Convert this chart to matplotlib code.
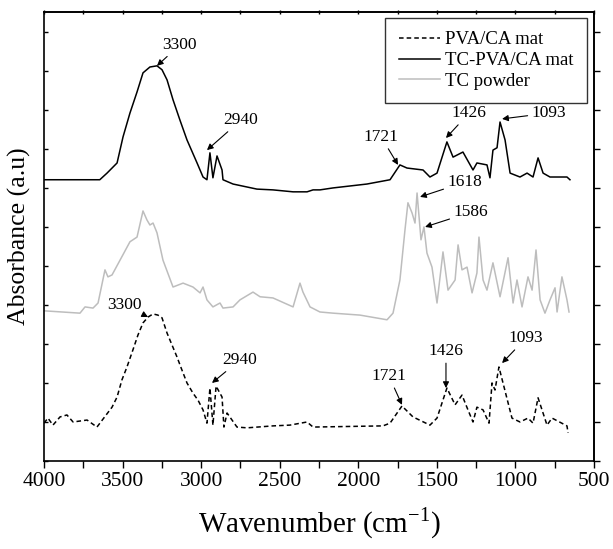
import matplotlib.pyplot as plt
from matplotlib.ticker import MultipleLocator, NullFormatter

plt.rcParams['font.family'] = ['Liberation Serif', 'DejaVu Serif']

# PVA/CA mat (bottom, dashed)
wn_pva = [4000, 3975, 3943, 3898, 3854, 3815, 3726, 3663, 3567, 3535, 3504, 3472, 3434, 3402,
          3370, 3338, 3306, 3275, 3249, 3217, 3185, 3154, 3122, 3090, 3052, 3020, 2988, 2963,
          2944, 2925, 2905, 2867, 2855, 2835, 2772, 2708, 2543, 2435, 2326, 2288, 1843, 1798,
          1722, 1652, 1544, 1499, 1436, 1384, 1340, 1302, 1270, 1245, 1206, 1168, 1149, 1130,
          1105, 1079, 1022, 971, 920, 888, 856, 799, 767, 672, 665]
ab_pva = [0.97, 1.10, 0.92, 1.13, 1.18, 1.00, 1.05, 0.87, 1.38, 1.64, 2.08, 2.41, 2.85, 3.23,
          3.54, 3.69, 3.77, 3.74, 3.67, 3.28, 2.97, 2.67, 2.33, 2.00, 1.74, 1.56, 1.31, 0.97,
          1.87, 0.92, 1.92, 1.64, 0.87, 1.23, 0.87, 0.85, 0.90, 0.92, 1.00, 0.87, 0.90, 0.97,
          1.41, 1.13, 0.92, 1.10, 1.87, 1.44, 1.69, 1.31, 1.00, 1.38, 1.31, 0.97, 2.00, 1.82,
          2.41, 2.00, 1.10, 1.00, 1.10, 0.97, 1.62, 0.92, 1.10, 0.90, 0.72]

# TC-PVA/CA mat (top, solid)
wn_tcpva = [4000, 3645, 3599, 3567, 3535, 3497, 3453, 3408, 3370, 3326, 3281, 3249, 3217, 3179,
            3135, 3090, 3026, 2988, 2963, 2944, 2925, 2899, 2867, 2861, 2797, 2645, 2543, 2415,
            2326, 2288, 2244, 2161, 1945, 1798, 1735, 1690, 1588, 1544, 1499, 1436, 1397, 1334,
            1270, 1245, 1181, 1162, 1143, 1117, 1098, 1066, 1034, 971, 926, 888, 856, 824, 780,
            672, 653]
ab_tcpva = [7.21, 7.21, 7.38, 7.51, 7.64, 8.31, 8.92, 9.46, 9.95, 10.10, 10.13, 10.03, 9.77, 9.26,
            8.74, 8.23, 7.64, 7.28, 7.21, 7.90, 7.26, 7.82, 7.46, 7.21, 7.10, 6.97, 6.95, 6.90,
            6.90, 6.95, 6.95, 7.00, 7.10, 7.21, 7.59, 7.51, 7.46, 7.28, 7.38, 8.18, 7.79, 7.92,
            7.46, 7.64, 7.59, 7.26, 7.97, 8.03, 8.69, 8.23, 7.38, 7.28, 7.38, 7.28, 7.77, 7.38,
            7.28, 7.28, 7.21]

# TC powder (middle, grey)
wn_tc = [4000, 3771, 3739, 3688, 3656, 3612, 3593, 3567, 3516, 3453, 3408, 3370, 3345, 3326,
         3306, 3281, 3243, 3179, 3115, 3052, 3007, 2988, 2963, 2925, 2880, 2861, 2797, 2753,
         2670, 2625, 2543, 2415, 2371, 2352, 2307, 2244, 2161, 1989, 1817, 1779, 1735, 1703,
         1684, 1658, 1639, 1626, 1601, 1582, 1563, 1531, 1499, 1461, 1429, 1384, 1365, 1340,
         1308, 1276, 1245, 1232, 1206, 1181, 1143, 1098, 1047, 1015, 990, 958, 920, 894, 869,
         843, 812, 780, 748, 735, 704, 672, 659]
ab_tc = [3.85, 3.79, 3.95, 3.92, 4.05, 4.90, 4.72, 4.77, 5.15, 5.62, 5.74, 6.41, 6.18, 6.05,
         6.10, 5.85, 5.15, 4.46, 4.56, 4.46, 4.31, 4.46, 4.13, 3.95, 4.05, 3.92, 3.95, 4.13,
         4.33, 4.21, 4.18, 3.95, 4.56, 4.33, 3.95, 3.82, 3.79, 3.74, 3.62, 3.79, 4.64, 5.92,
         6.62, 6.36, 6.10, 6.87, 5.67, 6.00, 5.33, 4.97, 4.05, 5.36, 4.38, 4.64, 5.54, 4.90,
         4.97, 4.31, 4.82, 5.74, 4.64, 4.38, 5.08, 4.21, 5.21, 4.05, 4.64, 3.95, 4.72, 4.38, 5.41,
         4.13, 3.79, 4.13, 4.44, 3.82, 4.72, 4.13, 3.82]

# peak labels: (text, peak wavenumber, peak absorbance, label x, label y)
peak_labels = [
    ("3300", 3281, 10.13, 3135, 10.67),
    ("2940", 2963, 7.97, 2746, 8.74),
    ("1721", 1747, 7.59, 1855, 8.31),
    ("1426", 1442, 8.28, 1295, 8.92),
    ("1093", 1085, 8.77, 786, 8.92),
    ("1618", 1607, 6.77, 1321, 7.15),
    ("1586", 1575, 6.00, 1283, 6.38),
    ("3300", 3338, 3.69, 3485, 4.00),
    ("2940", 2931, 2.00, 2753, 2.59),
    ("1721", 1722, 1.44, 1805, 2.18),
    ("1426", 1442, 1.87, 1442, 2.82),
    ("1093", 1085, 2.51, 933, 3.15),
]

fig = plt.figure(figsize=(6.13, 5.49), dpi=100)
ax = fig.add_axes([44 / 613, 1 - 461 / 549, 550 / 613, 449 / 549])

ax.plot(wn_pva, ab_pva, color='black', lw=1.1, ls=(0, (3, 2)), label='PVA/CA mat')
ax.plot(wn_tcpva, ab_tcpva, color='black', lw=1.1, label='TC-PVA/CA mat')
ax.plot(wn_tc, ab_tc, color='#bdbdbd', lw=1.1, label='TC powder')

for txt, px, py, tx, ty in peak_labels:
    ax.annotate(txt, xy=(px, py), xytext=(tx, ty), ha='center', va='center', fontsize=12.5,
                arrowprops=dict(arrowstyle='-|>', color='black', lw=0.8,
                                mutation_scale=9, shrinkA=1, shrinkB=0))

ax.set_xlim(4000, 500)
ax.set_ylim(0, 11.51)
ax.xaxis.set_major_locator(MultipleLocator(500))
ax.xaxis.set_minor_locator(MultipleLocator(250))
ax.yaxis.set_major_locator(MultipleLocator(1))
ax.yaxis.set_major_formatter(NullFormatter())

ax.tick_params(axis='x', which='both', direction='out', length=5, width=1, labelsize=15.5, pad=3)
ax.tick_params(axis='y', which='both', direction='in', length=3, width=1)
for s in ax.spines.values():
    s.set_linewidth(1.2)

# short ticks along the top, outward ticks on the right
top = ax.secondary_xaxis('top')
top.xaxis.set_major_locator(MultipleLocator(250))
top.tick_params(direction='inout', length=3, width=1, labeltop=False)
right = ax.secondary_yaxis('right')
right.yaxis.set_major_locator(MultipleLocator(1))
right.tick_params(direction='out', length=4, width=1, labelright=False)
top.spines['top'].set_linewidth(1.2)
right.spines['right'].set_linewidth(1.2)

ax.set_xlabel('Wavenumber (cm$^{\\mathregular{-1}}$)', fontsize=21, labelpad=10)
ax.set_ylabel('Absorbance (a.u)', fontsize=18.5, labelpad=6)

leg = ax.legend(loc='upper right', bbox_to_anchor=(587 / 613, 1 - 18 / 549),
                bbox_transform=fig.transFigure, fontsize=13.5, frameon=True, fancybox=False,
                edgecolor='black', handlelength=2.2, handletextpad=0.3, borderpad=0.7,
                labelspacing=0.2, borderaxespad=0)
leg.get_frame().set_linewidth(1.0)

fig.savefig('out.png', dpi=100)
